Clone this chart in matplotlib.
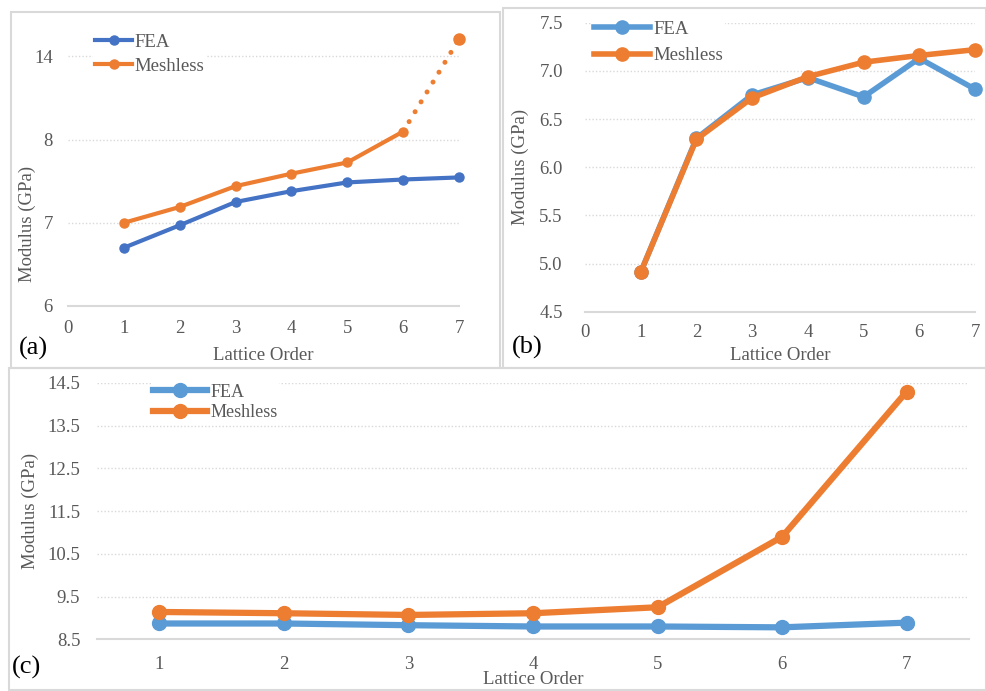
import numpy as np
import matplotlib
matplotlib.use("Agg")
import matplotlib.pyplot as plt
from matplotlib.patches import Rectangle

plt.rcParams['font.family'] = ['Liberation Serif', 'DejaVu Serif']

lattice = [1, 2, 3, 4, 5, 6, 7]

# panel (a) - broken-ish axis with ticks 6, 7, 8, 14 evenly spaced
a_fea = [6.70, 6.97, 7.25, 7.38, 7.485, 7.52, 7.545]
a_meshless = [7.00, 7.19, 7.44, 7.59, 7.725, 8.58, 15.25]
a_yticks = [6, 7, 8, 14]

# panel (b)
b_fea = [4.91, 6.30, 6.75, 6.93, 6.73, 7.13, 6.81]
b_meshless = [4.91, 6.29, 6.72, 6.94, 7.09, 7.16, 7.22]
b_yticks = [4.5, 5.0, 5.5, 6.0, 6.5, 7.0, 7.5]

# panel (c)
c_fea = [8.87, 8.87, 8.83, 8.80, 8.80, 8.78, 8.89]
c_meshless = [9.14, 9.11, 9.07, 9.11, 9.25, 10.90, 14.30]
c_yticks = [8.5, 9.5, 10.5, 11.5, 12.5, 13.5, 14.5]

TXT = '#595959'
GRID = '#d9d9d9'
BLUE_A = '#4472C4'
BLUE = '#5B9BD5'
ORANGE = '#ED7D31'

W, H = 987, 691
fig = plt.figure(figsize=(W / 100, H / 100), dpi=100)


def px_axes(x0, x1, ytop, ybot):
    return fig.add_axes([x0 / W, 1 - ybot / H, (x1 - x0) / W, (ybot - ytop) / H])


def style(ax, xpad, ypad):
    for s in ['left', 'right', 'top']:
        ax.spines[s].set_visible(False)
    ax.spines['bottom'].set_color(GRID)
    ax.spines['bottom'].set_linewidth(1.5)
    ax.set_axisbelow(True)
    ax.yaxis.grid(True, linestyle=(0, (1, 1.5)), color=GRID, lw=1)
    ax.tick_params(axis='x', length=0, pad=xpad, labelsize=13.5, labelcolor=TXT)
    ax.tick_params(axis='y', length=0, pad=ypad, labelsize=13.5, labelcolor=TXT)


def border(x0, y0, x1, y1):
    fig.add_artist(Rectangle((x0 / W, 1 - y1 / H), (x1 - x0) / W, (y1 - y0) / H,
                             transform=fig.transFigure, fill=False,
                             ec='#d9d9d9', lw=1.5))


def grey_legend(ax, x, y, fs, hl, sp, pad):
    leg = ax.legend(loc='upper left', bbox_to_anchor=(x / W, 1 - y / H),
                    bbox_transform=fig.transFigure, fontsize=fs, frameon=True,
                    edgecolor='none', facecolor='white', framealpha=1,
                    handlelength=hl, handletextpad=pad, labelspacing=sp,
                    borderpad=0.1, borderaxespad=0)
    for t in leg.get_texts():
        t.set_color(TXT)


border(11, 12, 500, 368)
border(503, 8, 986, 368)
border(9, 368, 986, 690)

# ---------- (a) ----------
seg_vals = [6, 7, 8, 14, 20]
seg_pos = [0, 1, 2, 3, 4]
fwd = lambda v: np.interp(v, seg_vals, seg_pos)
inv = lambda p: np.interp(p, seg_pos, seg_vals)

axa = px_axes(68, 459, 30, 306)
axa.set_yscale('function', functions=(fwd, inv))
axa.set_xlim(0, 7)
axa.set_ylim(6, 15.9)
axa.set_yticks(a_yticks)
axa.set_yticklabels([str(v) for v in a_yticks])
axa.set_xticks(range(0, 8))
style(axa, 10, 11)
axa.plot(lattice, a_fea, color=BLUE_A, lw=3, marker='o', ms=6.5,
         label='FEA', clip_on=False, zorder=3)
axa.plot(lattice[:6], a_meshless[:6], color=ORANGE, lw=3, marker='o', ms=6.5,
         label='Meshless', clip_on=False, zorder=3)
axa.plot(lattice[5:], a_meshless[5:], color=ORANGE, lw=3.6,
         linestyle=(0, (0.01, 2.3)), dash_capstyle='round', clip_on=False, zorder=3)
axa.plot(lattice[6:], a_meshless[6:], color=ORANGE, marker='o', ms=8,
         ls='none', clip_on=False, zorder=3)
axa.set_ylabel('Modulus (GPa)', fontsize=13.5, color=TXT, va='center')
axa.yaxis.set_label_coords(-(68 - 27) / 391, (306 - 224) / 276)
axa.set_xlabel('Lattice Order', fontsize=13.5, color=TXT, va='center')
axa.xaxis.set_label_coords(0.5, -(356 - 306) / 276)
grey_legend(axa, 93, 32, 13.5, 2.0, 0.35, 0.1)
fig.text(33 / W, 1 - 348 / H, '(a)', fontsize=19, ha='center', va='center')

# ---------- (b) ----------
axb = px_axes(585, 975, 22.7, 311.7)
axb.set_xlim(0, 7)
axb.set_ylim(4.5, 7.5)
axb.set_yticks(b_yticks)
axb.set_yticklabels(['%.1f' % v for v in b_yticks])
axb.set_xticks(range(0, 8))
style(axb, 9, 16)
axb.plot(lattice, b_fea, color=BLUE, lw=4, marker='o', ms=9.5,
         label='FEA', clip_on=False, zorder=3)
axb.plot(lattice, b_meshless, color=ORANGE, lw=4, marker='o', ms=9.5,
         label='Meshless', clip_on=False, zorder=3)
axb.set_ylabel('Modulus (GPa)', fontsize=13.5, color=TXT, va='center')
axb.yaxis.set_label_coords(-(585 - 520) / 390, 0.5)
axb.set_xlabel('Lattice Order', fontsize=13.5, color=TXT, va='center')
axb.xaxis.set_label_coords(0.5, -(355 - 311.7) / 289)
grey_legend(axb, 592, 19, 13.5, 3.0, 0.5, 0.2)
fig.text(527 / W, 1 - 347 / H, '(b)', fontsize=19, ha='center', va='center')

# ---------- (c) ----------
axc = px_axes(97, 969, 383, 639.3)
axc.set_xlim(0.5, 7.5)
axc.set_ylim(8.5, 14.5)
axc.set_yticks(c_yticks)
axc.set_yticklabels(['%.1f' % v for v in c_yticks])
axc.set_xticks(lattice)
style(axc, 12, 12)
axc.plot(lattice, c_fea, color=BLUE, lw=4.5, marker='o', ms=10,
         label='FEA', clip_on=False, zorder=3)
axc.plot(lattice, c_meshless, color=ORANGE, lw=4.5, marker='o', ms=10,
         label='Meshless', clip_on=False, zorder=3)
axc.set_ylabel('Modulus (GPa)', fontsize=13.5, color=TXT, va='center')
axc.yaxis.set_label_coords(-(97 - 30) / 872, 0.5)
axc.set_xlabel('Lattice Order', fontsize=13.5, color=TXT, va='center')
axc.xaxis.set_label_coords(0.5, -(680 - 639.3) / 256.3)
grey_legend(axc, 151, 382, 13, 3.0, 0.2, 0.2)
fig.text(27 / W, 1 - 667 / H, '(c)', fontsize=19, ha='center', va='center')

fig.savefig('out.png', dpi=100)
